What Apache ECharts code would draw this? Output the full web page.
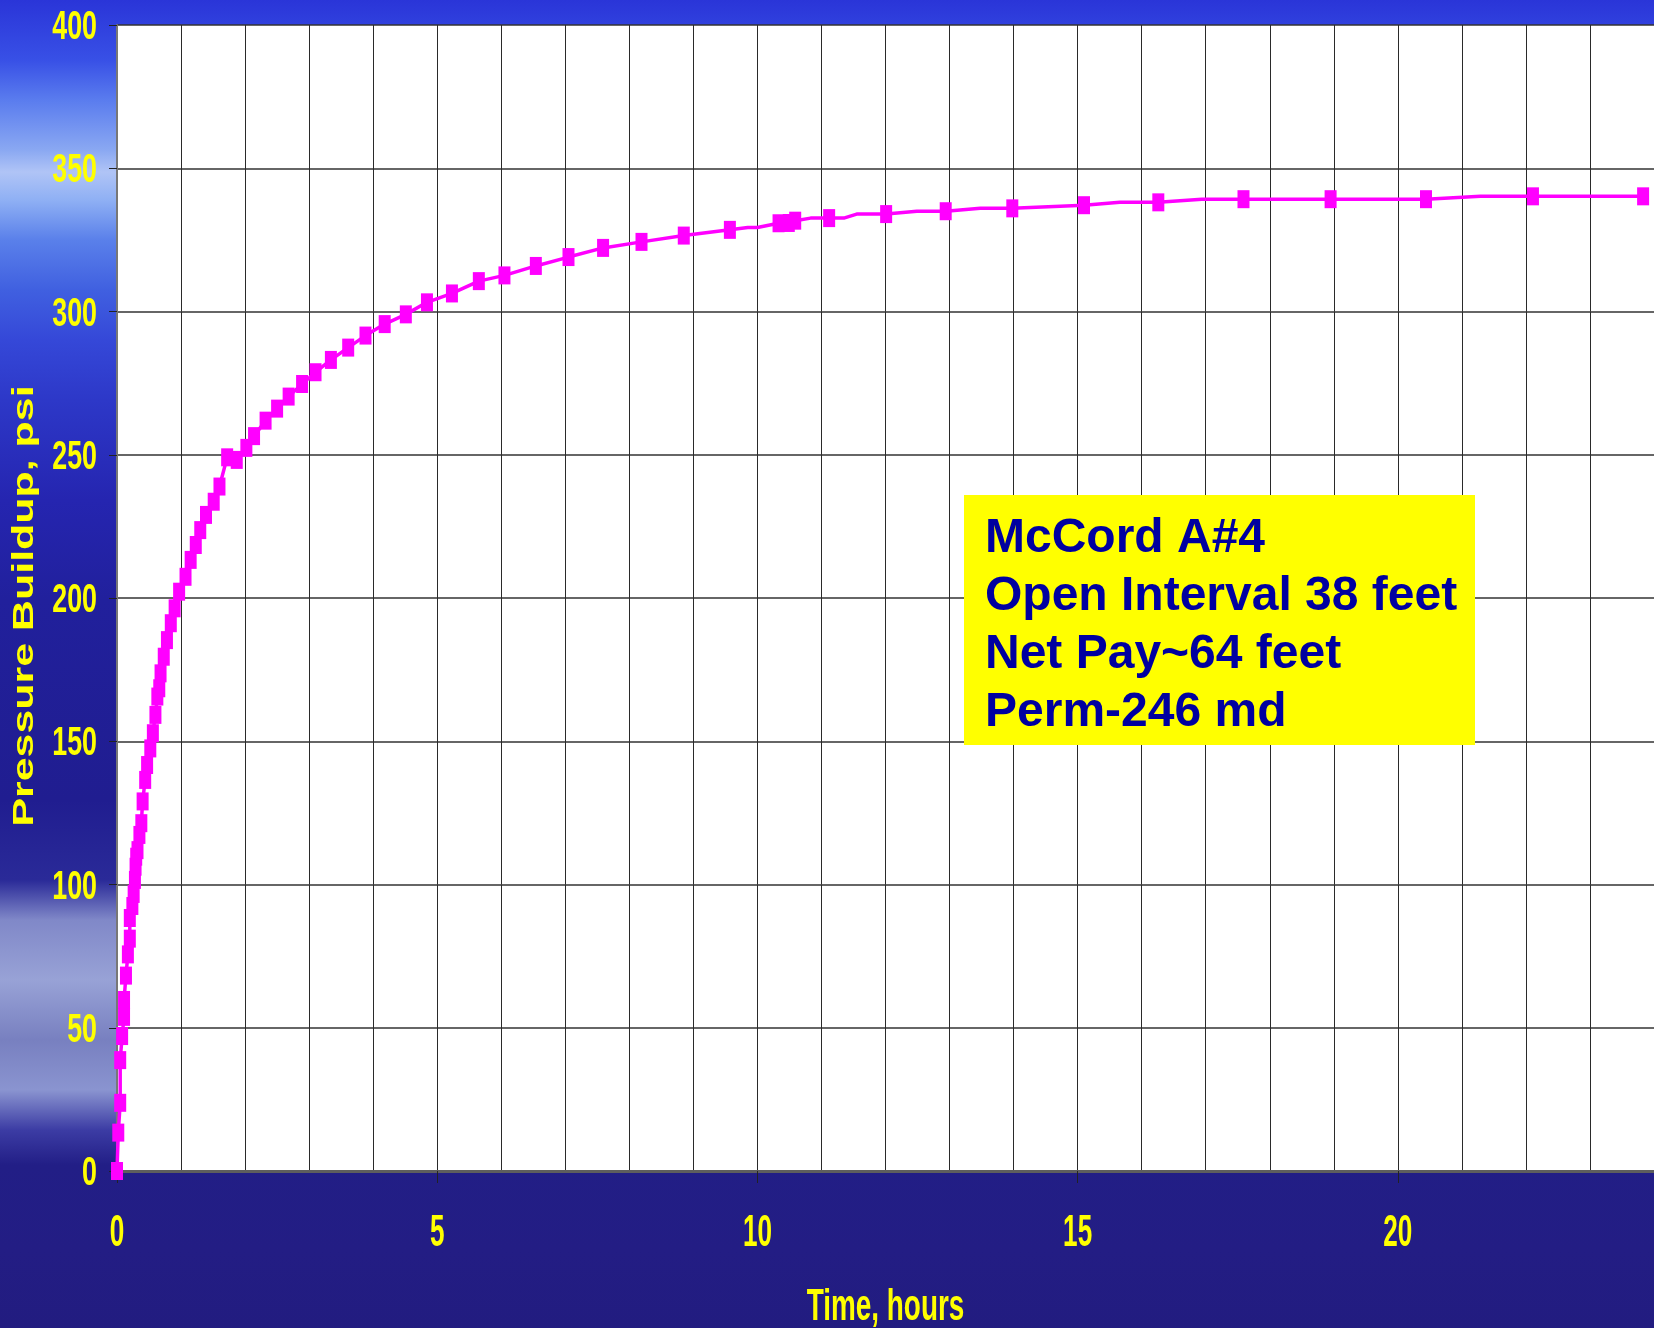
<!DOCTYPE html>
<html>
<head>
<meta charset="utf-8">
<script src="https://cdn.jsdelivr.net/npm/echarts@6/dist/echarts.min.js"></script>
<style>
html, body { margin: 0; padding: 0; }
#chart {
  width: 1654px; height: 1328px;
  background: linear-gradient(to bottom,
    #2a35d8 0px, #3850e6 60px, #5a7cee 100px, #8aa8f2 150px, #b0c4f6 172px,
    #8fb0f4 200px, #5a80ea 240px, #4060e0 290px, #3548d8 340px, #2d38c8 400px,
    #2525b0 500px, #21209c 600px, #201d90 800px, #2a2a98 880px, #8088c8 920px,
    #98a2d6 980px, #7880c0 1040px, #8a94d0 1090px, #3c3ca4 1130px, #221e86 1165px,
    #231d84 1250px, #221c80 1328px);
}
</style>
</head>
<body>
<div id="chart"></div>
<script>
// Marker points (time in hours, pressure buildup in psi)
const timeHours = [0.00, 0.02, 0.05, 0.05, 0.08, 0.11, 0.11, 0.14, 0.17, 0.20, 0.20, 0.24, 0.26, 0.28, 0.29, 0.30, 0.32, 0.35, 0.38, 0.40,
  0.44, 0.47, 0.52, 0.56, 0.60, 0.63, 0.66, 0.68, 0.73, 0.78, 0.84, 0.90, 0.97, 1.07, 1.15, 1.23, 1.30, 1.39, 1.51, 1.60,
  1.72, 1.87, 2.02, 2.14, 2.32, 2.50, 2.68, 2.89, 3.10, 3.34, 3.61, 3.88, 4.18, 4.51, 4.84, 5.23, 5.65, 6.05, 6.54, 7.05,
  7.59, 8.19, 8.85, 9.57, 10.33, 10.49, 10.59, 11.12, 12.01, 12.94, 13.98, 15.10, 16.26, 17.59, 18.95, 20.44, 22.11, 23.83];
const pressurePsi = [0, 13.4, 23.8, 38.7, 47.1, 53.8, 59.7, 68.2, 75.6, 81.1, 88.3, 92.5, 96.7, 101.6, 106.2, 109.7, 112.0, 117.3, 121.4, 129.0,
  136.5, 141.7, 147.5, 152.8, 159.2, 165.6, 168.5, 173.7, 179.5, 185.3, 191.2, 196.4, 202.2, 207.4, 213.3, 218.5, 223.7, 229.0, 233.6, 238.9,
  249.1, 248.2, 252.4, 256.5, 261.9, 266.1, 270.3, 274.7, 278.8, 283.1, 287.4, 291.6, 295.6, 299.0, 303.2, 306.3, 310.6, 312.6, 315.9, 319.0,
  322.2, 324.3, 326.5, 328.5, 330.8, 330.9, 331.7, 332.6, 334.0, 335.0, 336.0, 337.1, 338.1, 339.2, 339.2, 339.2, 340.2, 340.2];

// Extra vertices of the connecting line (readings without a marker)
const lineOnlyTime = [9.85, 10.00, 10.83, 11.35, 11.55, 12.49, 13.48, 15.66, 16.94, 21.29];
const lineOnlyPsi = [329.3, 329.3, 332.6, 332.6, 334.0, 335.0, 336.0, 338.1, 339.2, 340.2];

const xLabelValues = [0, 5, 10, 15, 20];
const yTickValues = [0, 50, 100, 150, 200, 250, 300, 350, 400];
const xAxisTitle = 'Time, hours';
const yAxisTitle = 'Pressure Buildup, psi';
const annotationLines = ['McCord A#4', 'Open Interval 38 feet', 'Net Pay~64 feet', 'Perm-246 md'];

const markerData = timeHours.map((t, i) => [t, pressurePsi[i]]);
const lineData = markerData.concat(lineOnlyTime.map((t, i) => [t, lineOnlyPsi[i]]))
  .sort((a, b) => a[0] - b[0]);

const SANS = "'Liberation Sans', Arial, sans-serif";
const YELLOW = '#ffff00';
const chart = echarts.init(document.getElementById('chart'), null, { renderer: 'canvas' });

chart.setOption({
  backgroundColor: 'transparent',
  animation: false,
  grid: { left: 117, right: 0, top: 25, bottom: 157, show: true, backgroundColor: '#ffffff',
    borderWidth: 0, containLabel: false, outerBoundsMode: 'none' },
  xAxis: [
    {
      type: 'value', min: 0, max: 24, interval: 1, position: 'bottom',
      axisLine: { show: true, onZero: false, lineStyle: { color: '#5e5e5e', width: 3 } },
      axisTick: { show: false },
      axisLabel: { show: false },
      splitLine: { show: true, lineStyle: { color: '#2a2a2a', width: 1 } }
    },
    {
      type: 'value', min: 0, max: 24, position: 'bottom', offset: 0,
      axisLine: { show: false },
      axisTick: { show: true, customValues: xLabelValues, length: 12, lineStyle: { color: '#222', width: 1 } },
      axisLabel: { show: false, customValues: xLabelValues },
      splitLine: { show: false }
    }
  ],
  yAxis: {
    type: 'value', min: 0, max: 400, interval: 50,
    axisLine: { show: true, lineStyle: { color: '#777', width: 2 } },
    axisTick: { show: true, length: 8, lineStyle: { color: '#222', width: 1 } },
    axisLabel: { show: false },
    splitLine: { show: true, lineStyle: { color: '#333', width: 1.5 } }
  },
  series: [
    {
      type: 'line', xAxisIndex: 0, data: lineData, showSymbol: false, symbol: 'none',
      lineStyle: { color: '#ff00ff', width: 3.5 }, z: 3, silent: true
    },
    {
      type: 'scatter', xAxisIndex: 0, data: markerData, symbol: 'rect', symbolSize: [12, 18],
      itemStyle: { color: '#ff00ff', opacity: 1 }, z: 4, silent: true
    }
  ]
});

// Axis texts (condensed / stretched like the original), placed through the chart's own scales
const gfx = [];
yTickValues.forEach(v => {
  const p = chart.convertToPixel({ gridIndex: 0 }, [0, v]);
  gfx.push({ type: 'text', x: p[0] - 20, y: p[1] + 3, scaleX: 0.67, z: 50,
    style: { text: String(v), fill: YELLOW, font: 'bold 40px ' + SANS, textAlign: 'right', textVerticalAlign: 'middle' } });
});
xLabelValues.forEach(v => {
  const p = chart.convertToPixel({ gridIndex: 0 }, [v, 0]);
  gfx.push({ type: 'text', x: p[0], y: p[1] + 63, scaleX: 0.58, z: 50,
    style: { text: String(v), fill: YELLOW, font: 'bold 45px ' + SANS, textAlign: 'center', textVerticalAlign: 'middle' } });
});
const pMid = chart.convertToPixel({ gridIndex: 0 }, [12, 0]);
gfx.push({ type: 'text', x: pMid[0], y: pMid[1] + 137, scaleX: 0.62, z: 50,
  style: { text: xAxisTitle, fill: YELLOW, font: 'bold 45px ' + SANS, textAlign: 'center', textVerticalAlign: 'middle' } });
const yMid = chart.convertToPixel({ gridIndex: 0 }, [0, 200]);
gfx.push({ type: 'text', x: 24.5, y: yMid[1] + 8, rotation: Math.PI / 2, scaleX: 1.48, z: 50,
  style: { text: yAxisTitle, fill: YELLOW, font: 'bold 29px ' + SANS, textAlign: 'center', textVerticalAlign: 'middle' } });

// Annotation box
const annotationTop = 539, annotationStep = 57.8;
gfx.push({ type: 'rect', shape: { x: 964, y: 495, width: 511, height: 250 }, style: { fill: '#ffff00' }, z: 100 });
annotationLines.forEach((s, i) => {
  gfx.push({ type: 'text', x: 985, y: annotationTop + i * annotationStep, z: 101,
    style: { text: s, fill: '#0000a0', font: 'bold 48px ' + SANS, textAlign: 'left', textVerticalAlign: 'middle' } });
});

chart.setOption({ graphic: gfx });
</script>
</body>
</html>
